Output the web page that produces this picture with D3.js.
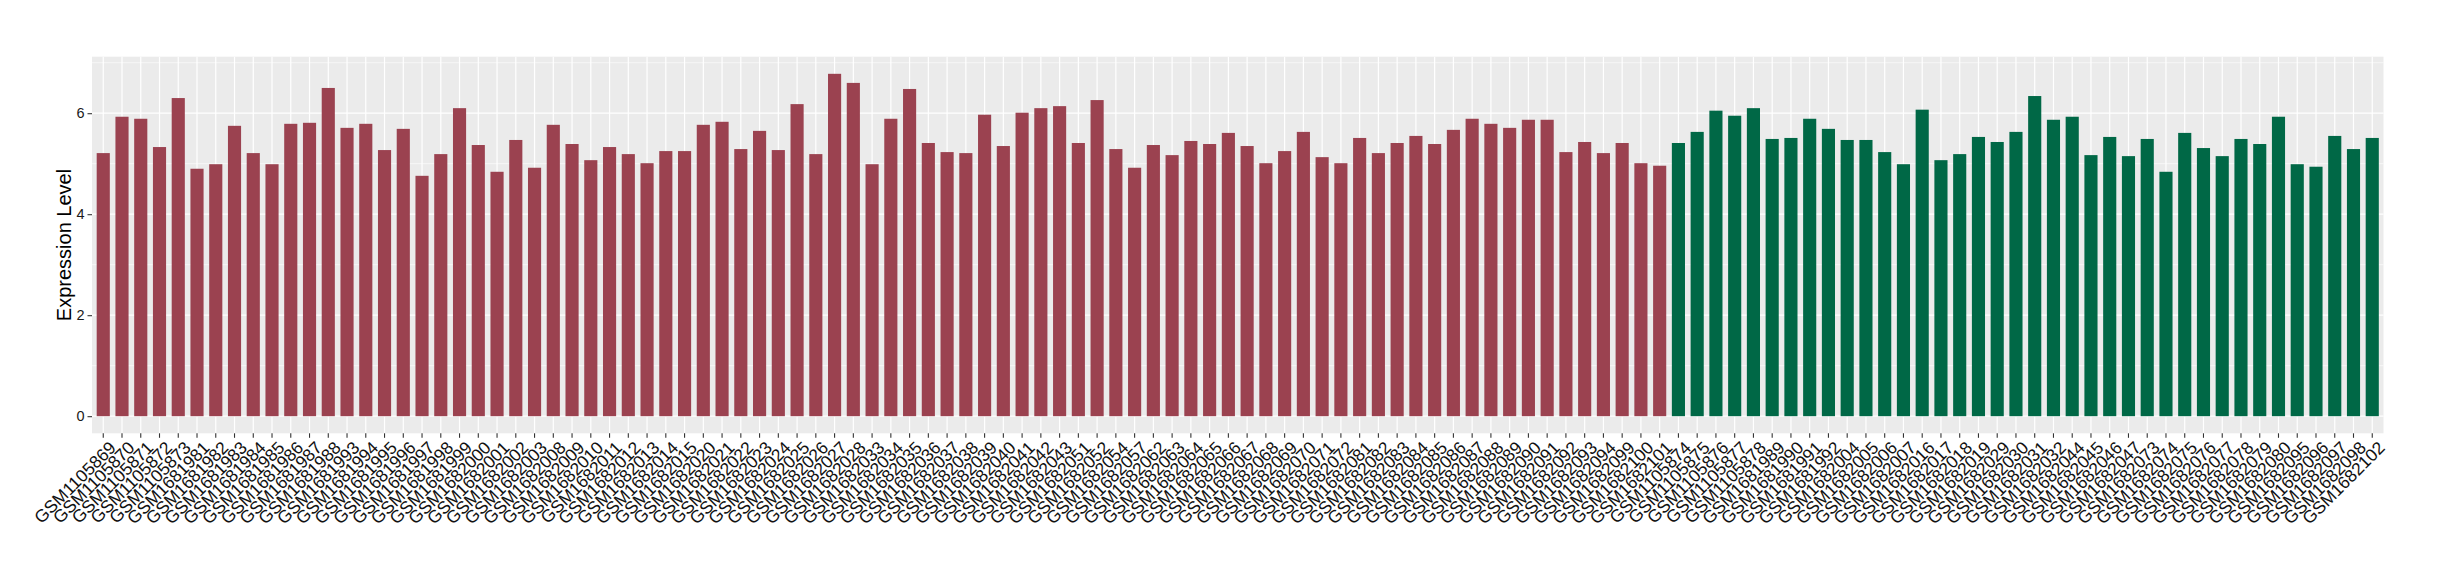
<!DOCTYPE html>
<html>
<head>
<meta charset="utf-8">
<script src="https://cdn.jsdelivr.net/npm/d3@7"></script>
<style>
  html, body { margin: 0; padding: 0; background: #ffffff; }
  svg { display: block; }
  text { font-family: "Liberation Sans", Arial, sans-serif; }
</style>
</head>
<body>
<svg id="chart" width="2440" height="580"></svg>
<script>
// ---------------- data ----------------
const groupASamples = [
  "GSM1105869","GSM1105870","GSM1105871","GSM1105872","GSM1105873","GSM1681981","GSM1681982","GSM1681983",
  "GSM1681984","GSM1681985","GSM1681986","GSM1681987","GSM1681988","GSM1681993","GSM1681994","GSM1681995",
  "GSM1681996","GSM1681997","GSM1681998","GSM1681999","GSM1682000","GSM1682001","GSM1682002","GSM1682003",
  "GSM1682008","GSM1682009","GSM1682010","GSM1682011","GSM1682012","GSM1682013","GSM1682014","GSM1682015",
  "GSM1682020","GSM1682021","GSM1682022","GSM1682023","GSM1682024","GSM1682025","GSM1682026","GSM1682027",
  "GSM1682028","GSM1682033","GSM1682034","GSM1682035","GSM1682036","GSM1682037","GSM1682038","GSM1682039",
  "GSM1682040","GSM1682041","GSM1682042","GSM1682043","GSM1682051","GSM1682052","GSM1682054","GSM1682057",
  "GSM1682062","GSM1682063","GSM1682064","GSM1682065","GSM1682066","GSM1682067","GSM1682068","GSM1682069",
  "GSM1682070","GSM1682071","GSM1682072","GSM1682081","GSM1682082","GSM1682083","GSM1682084","GSM1682085",
  "GSM1682086","GSM1682087","GSM1682088","GSM1682089","GSM1682090","GSM1682091","GSM1682092","GSM1682093",
  "GSM1682094","GSM1682099","GSM1682100","GSM1682101"
];
const groupAValues = [
  5.21,5.93,5.89,5.33,6.30,4.90,4.99,5.75,
  5.21,4.99,5.79,5.81,6.50,5.71,5.79,5.27,
  5.69,4.76,5.19,6.10,5.37,4.84,5.47,4.92,
  5.77,5.39,5.07,5.33,5.19,5.01,5.25,5.25,
  5.77,5.83,5.29,5.65,5.27,6.18,5.19,6.78,
  6.60,4.99,5.89,6.48,5.41,5.23,5.21,5.97,
  5.35,6.01,6.10,6.14,5.41,6.26,5.29,4.92,
  5.37,5.17,5.45,5.39,5.61,5.35,5.01,5.25,
  5.63,5.13,5.01,5.51,5.21,5.41,5.55,5.39,
  5.67,5.89,5.79,5.71,5.87,5.87,5.23,5.43,
  5.21,5.41,5.01,4.96
];
const groupBSamples = [
  "GSM1105874","GSM1105875","GSM1105876","GSM1105877","GSM1105878","GSM1681989","GSM1681990","GSM1681991",
  "GSM1681992","GSM1682004","GSM1682005","GSM1682006","GSM1682007","GSM1682016","GSM1682017","GSM1682018",
  "GSM1682019","GSM1682029","GSM1682030","GSM1682031","GSM1682032","GSM1682044","GSM1682045","GSM1682046",
  "GSM1682047","GSM1682073","GSM1682074","GSM1682075","GSM1682076","GSM1682077","GSM1682078","GSM1682079",
  "GSM1682080","GSM1682095","GSM1682096","GSM1682097","GSM1682098","GSM1682102"
];
const groupBValues = [
  5.41,5.63,6.05,5.95,6.10,5.49,5.51,5.89,
  5.69,5.47,5.47,5.23,4.99,6.07,5.07,5.19,
  5.53,5.43,5.63,6.34,5.87,5.93,5.17,5.53,
  5.15,5.49,4.84,5.61,5.31,5.15,5.49,5.39,
  5.93,4.99,4.94,5.55,5.29,5.51
];
const groupNames = ["groupA", "groupB"];
const groupColors = ["#9B4250", "#006846"];
const yTickValues = [0, 2, 4, 6];
const yMinorValues = [1, 3, 5, 7];
const yTitle = "Expression Level";

// ---------------- build ----------------
const rows = [];
groupASamples.forEach((s, i) => rows.push({ sample: s, value: groupAValues[i], group: groupNames[0] }));
groupBSamples.forEach((s, i) => rows.push({ sample: s, value: groupBValues[i], group: groupNames[1] }));

const svg = d3.select("#chart");
const panel = { left: 92, right: 2383.5, top: 56.7, bottom: 433.3 };

const x = d3.scaleBand()
  .domain(rows.map(d => d.sample))
  .range([panel.left, panel.right])
  .paddingInner(0.3)
  .paddingOuter(0.25);

const maxV = d3.max(rows, d => d.value);
const y = d3.scaleLinear()
  .domain([-0.05 * maxV, 1.05 * maxV])
  .range([panel.bottom, panel.top]);

const color = d3.scaleOrdinal().domain(groupNames).range(groupColors);

// panel background
svg.append("rect")
  .attr("x", panel.left).attr("y", panel.top)
  .attr("width", panel.right - panel.left).attr("height", panel.bottom - panel.top)
  .attr("fill", "#EBEBEB");

// minor grid
svg.append("g").selectAll("line").data(yMinorValues.filter(v => y(v) >= panel.top)).join("line")
  .attr("x1", panel.left).attr("x2", panel.right)
  .attr("y1", d => y(d)).attr("y2", d => y(d))
  .attr("stroke", "#ffffff").attr("stroke-width", 0.6);

// major grid
svg.append("g").selectAll("line").data(yTickValues).join("line")
  .attr("x1", panel.left).attr("x2", panel.right)
  .attr("y1", d => y(d)).attr("y2", d => y(d))
  .attr("stroke", "#ffffff").attr("stroke-width", 1.2);

svg.append("g").selectAll("line").data(rows).join("line")
  .attr("x1", d => x(d.sample) + x.bandwidth() / 2).attr("x2", d => x(d.sample) + x.bandwidth() / 2)
  .attr("y1", panel.top).attr("y2", panel.bottom)
  .attr("stroke", "#ffffff").attr("stroke-width", 1.2);

// bars
svg.append("g").selectAll("rect").data(rows).join("rect")
  .attr("x", d => x(d.sample))
  .attr("width", x.bandwidth())
  .attr("y", d => y(d.value))
  .attr("height", d => y(0) - y(d.value))
  .attr("fill", d => color(d.group));

// y axis
const yAxis = d3.axisLeft(y).tickValues(yTickValues).tickSize(4.5).tickPadding(3).tickFormat(d3.format("d"));
const gy = svg.append("g").attr("transform", `translate(${panel.left},0)`).call(yAxis);
gy.select(".domain").remove();
gy.selectAll(".tick line").attr("stroke", "#333333").attr("stroke-width", 1.1);
gy.selectAll(".tick text").attr("font-size", 14.5).attr("fill", "#1a1a1a")
  .attr("font-family", "Liberation Sans, Arial, sans-serif");

// x axis
const xAxis = d3.axisBottom(x).tickSize(4.5).tickPadding(0);
const gx = svg.append("g").attr("transform", `translate(0,${panel.bottom})`).call(xAxis);
gx.select(".domain").remove();
gx.selectAll(".tick line").attr("stroke", "#333333").attr("stroke-width", 1.1);
gx.selectAll(".tick text")
  .attr("font-size", 17.5)
  .attr("fill", "#111111")
  .attr("font-family", "Liberation Sans, Arial, sans-serif")
  .attr("text-anchor", "end")
  .attr("y", null)
  .attr("transform", "translate(5,7) rotate(-45)")
  .attr("dy", "0.7em");

// y title
svg.append("text")
  .attr("transform", `translate(71,${(panel.top + panel.bottom) / 2}) rotate(-90)`)
  .attr("text-anchor", "middle")
  .attr("font-size", 20)
  .attr("fill", "#000000")
  .text(yTitle);
</script>
</body>
</html>
